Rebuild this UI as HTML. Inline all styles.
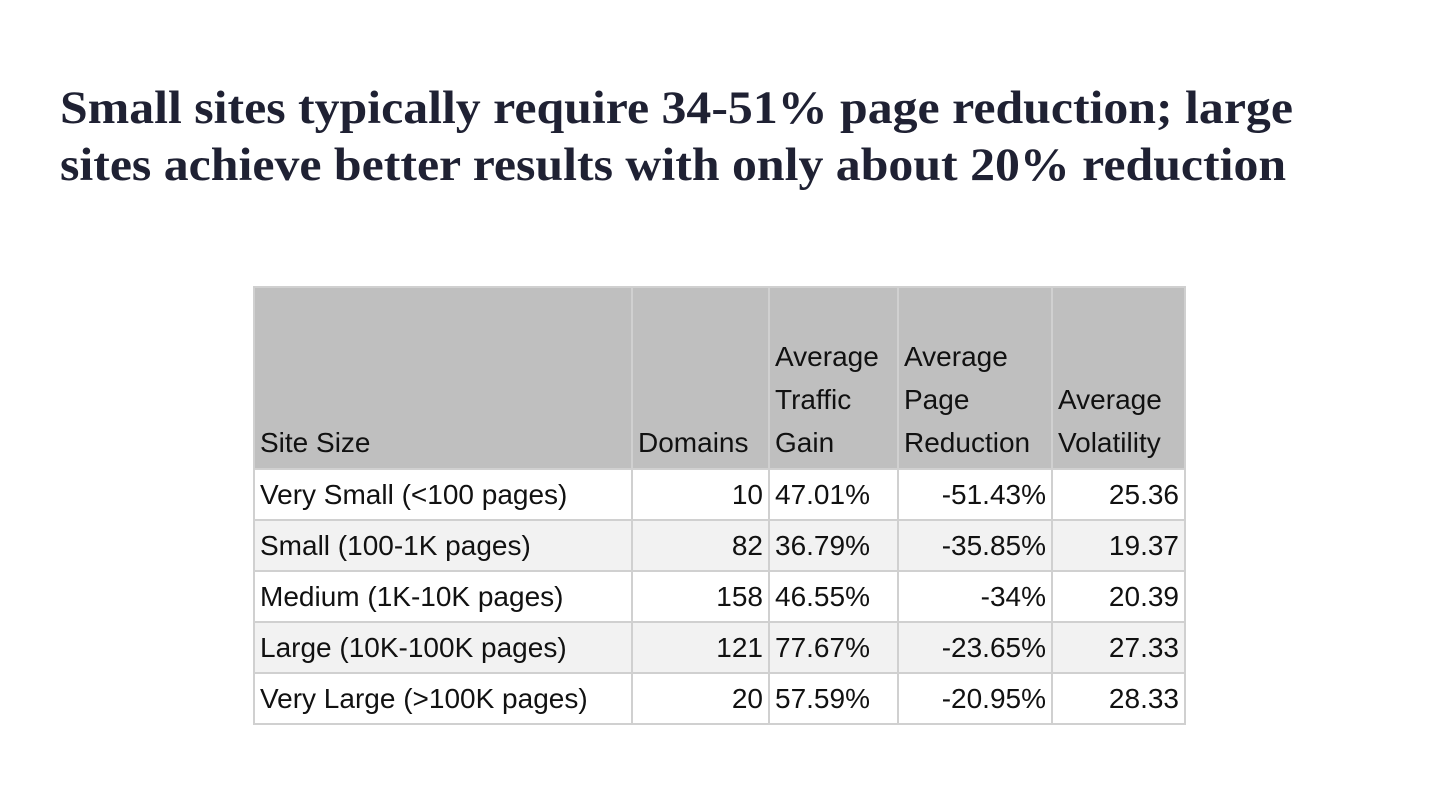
<!DOCTYPE html>
<html><head><meta charset="utf-8"><style>
body{margin:0;width:1440px;height:810px;background:#fff;position:relative;overflow:hidden;font-family:"Liberation Sans",sans-serif}
h1{position:absolute;left:60px;top:80px;margin:0;font-family:"Liberation Serif",serif;font-weight:bold;font-size:47px;line-height:57px;color:#1f2133;letter-spacing:0;white-space:nowrap;transform:scaleX(1.06);transform-origin:left top}
table{position:absolute;left:253px;top:286px;border-collapse:collapse;font-size:28px;color:#111;table-layout:fixed}
td,th{border:2px solid #d0d0d0;padding:0 5px;font-weight:normal;overflow:hidden;white-space:nowrap}
tr.r{height:51px}
th{background:#bfbfbf;vertical-align:bottom;text-align:left;line-height:43px;padding-bottom:4px}
td.n{text-align:right}
tr.alt td{background:#f2f2f2}
</style></head><body>
<h1>Small sites typically require 34-51% page reduction; large<br>sites achieve better results with only about 20% reduction</h1>
<table>
<tr style="height:182px">
<th style="width:366px">Site Size</th>
<th style="width:125px">Domains</th>
<th style="width:117px">Average<br>Traffic<br>Gain</th>
<th style="width:142px">Average<br>Page<br>Reduction</th>
<th style="width:121px">Average<br>Volatility</th>
</tr>
<tr class="r"><td>Very Small (&lt;100 pages)</td><td class="n">10</td><td>47.01%</td><td class="n">-51.43%</td><td class="n">25.36</td></tr>
<tr class="r alt"><td>Small (100-1K pages)</td><td class="n">82</td><td>36.79%</td><td class="n">-35.85%</td><td class="n">19.37</td></tr>
<tr class="r"><td>Medium (1K-10K pages)</td><td class="n">158</td><td>46.55%</td><td class="n">-34%</td><td class="n">20.39</td></tr>
<tr class="r alt"><td>Large (10K-100K pages)</td><td class="n">121</td><td>77.67%</td><td class="n">-23.65%</td><td class="n">27.33</td></tr>
<tr class="r"><td>Very Large (&gt;100K pages)</td><td class="n">20</td><td>57.59%</td><td class="n">-20.95%</td><td class="n">28.33</td></tr>
</table>
</body></html>
